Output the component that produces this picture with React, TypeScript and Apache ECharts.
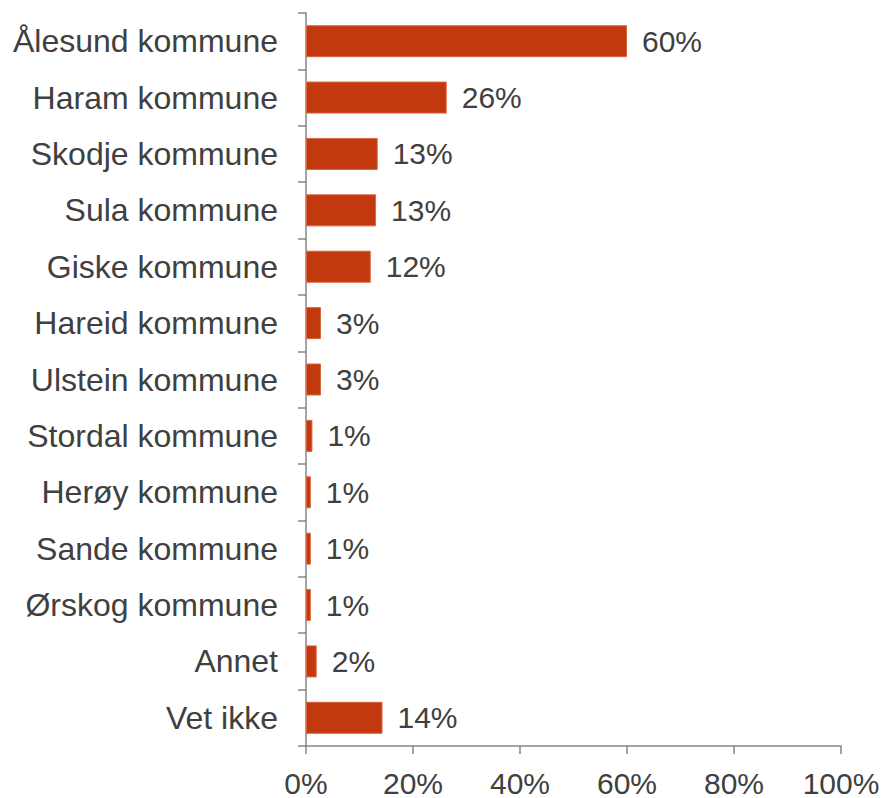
import React, { useEffect, useRef } from "react";
import * as echarts from "echarts";

const categories = [
  "Ålesund kommune",
  "Haram kommune",
  "Skodje kommune",
  "Sula kommune",
  "Giske kommune",
  "Hareid kommune",
  "Ulstein kommune",
  "Stordal kommune",
  "Herøy kommune",
  "Sande kommune",
  "Ørskog kommune",
  "Annet",
  "Vet ikke",
];
const values = [60, 26.3, 13.4, 13.1, 12.1, 2.8, 2.8, 1.2, 0.9, 0.9, 0.9, 2.0, 14.3];
const xTicks = [0, 20, 40, 60, 80, 100];

export default function App() {
  const ref = useRef<HTMLDivElement>(null);
  useEffect(() => {
    if (!ref.current) return;
    const chart = echarts.init(ref.current, undefined, { renderer: "svg" });
    const font = "'Liberation Sans', Arial, sans-serif";
    chart.setOption({
      animation: false,
      grid: { left: 306, right: 43, top: 13, bottom: 52, containLabel: false },
      xAxis: {
        type: "value",
        min: xTicks[0],
        max: xTicks[xTicks.length - 1],
        interval: 20,
        axisLine: { show: true, lineStyle: { color: "#868686", width: 1.5 } },
        axisTick: { show: true, length: 8, lineStyle: { color: "#868686", width: 1.5 } },
        splitLine: { show: false },
        axisLabel: {
          formatter: (v: number) => v + "%",
          fontSize: 30,
          fontFamily: font,
          color: "#404040",
          margin: 22,
        },
      },
      yAxis: {
        type: "category",
        data: categories,
        inverse: true,
        axisLine: { show: true, lineStyle: { color: "#868686", width: 1.5 } },
        axisTick: { show: true, length: 8, lineStyle: { color: "#868686", width: 1.5 } },
        axisLabel: {
          fontSize: 32,
          fontFamily: font,
          color: "#404040",
          margin: 28,
        },
      },
      series: [
        {
          type: "bar",
          data: values,
          barWidth: 32,
          itemStyle: { color: "#C3390F", borderColor: "#D9643F", borderWidth: 1 },
          label: {
            show: true,
            position: "right",
            distance: 15,
            formatter: (p: any) => Math.round(p.value) + "%",
            fontSize: 30,
            fontFamily: font,
            color: "#404040",
          },
        },
      ],
    });
    return () => chart.dispose();
  }, []);
  return <div ref={ref} style={{ width: 884, height: 798, position: "absolute", left: 0, top: 0 }} />;
}
